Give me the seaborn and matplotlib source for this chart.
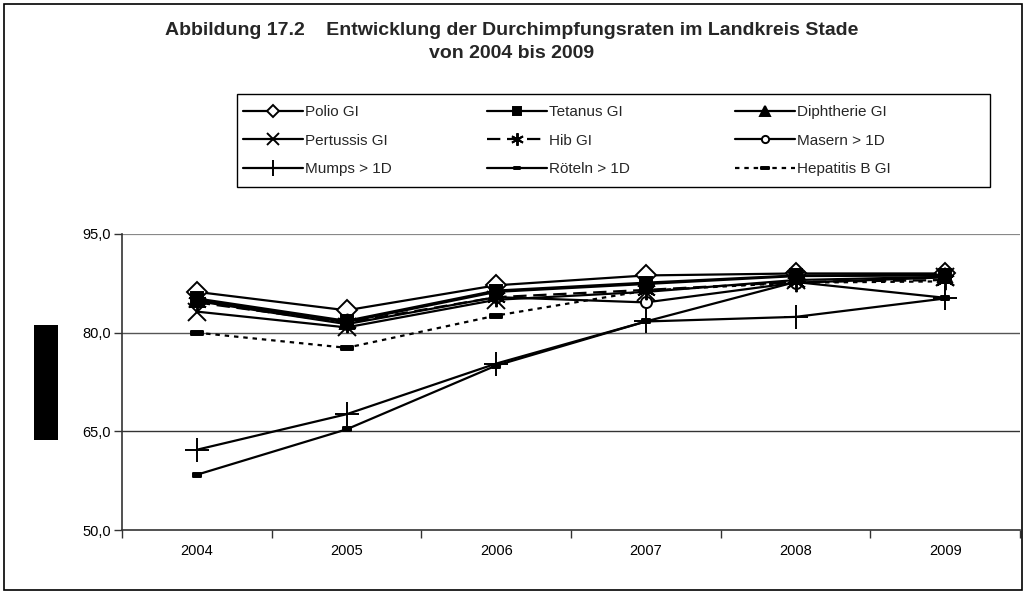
import matplotlib
matplotlib.use("Agg")
import matplotlib.pyplot as plt
from matplotlib.patches import Rectangle
from matplotlib.path import Path
import seaborn as sns
import pandas as pd
import numpy as np

years = ["2004", "2005", "2006", "2007", "2008", "2009"]

polio = [86.2, 83.4, 87.2, 88.7, 89.0, 89.0]
tetanus = [85.2, 81.8, 86.4, 87.6, 88.7, 88.8]
diphtherie = [85.0, 81.6, 86.2, 87.4, 88.6, 88.7]
pertussis = [83.2, 80.8, 85.0, 86.2, 88.0, 88.5]
hib = [84.6, 81.5, 85.4, 86.5, 87.7, 88.0]
masern = [84.8, 81.3, 85.4, 84.6, 87.6, 88.4]
mumps = [62.2, 67.6, 75.3, 81.7, 82.4, 85.2]
roeteln = [58.4, 65.3, 75.0, 81.7, 87.7, 85.3]
hepatitis_b = [80.0, 77.7, 82.6, 86.4, 87.6, 87.8]

labels = ["Polio GI", "Tetanus GI", "Diphtherie GI",
          "Pertussis GI", "Hib GI", "Masern > 1D",
          "Mumps > 1D", "Röteln > 1D", "Hepatitis B GI"]
values = [polio, tetanus, diphtherie, pertussis, hib, masern,
          mumps, roeteln, hepatitis_b]

y_ticks = [50.0, 65.0, 80.0, 95.0]
y_ticklabels = ["50,0", "65,0", "80,0", "95,0"]

title_text = ("Abbildung 17.2    Entwicklung der Durchimpfungsraten im Landkreis Stade\n"
              "von 2004 bis 2009")

# flat bar markers (Röteln, Hepatitis B)
bar_small = Path([(-1, -0.45), (1, -0.45), (1, 0.45), (-1, 0.45), (-1, -0.45)],
                 [Path.MOVETO, Path.LINETO, Path.LINETO, Path.LINETO, Path.CLOSEPOLY])
bar_wide = Path([(-1, -0.35), (1, -0.35), (1, 0.35), (-1, 0.35), (-1, -0.35)],
                [Path.MOVETO, Path.LINETO, Path.LINETO, Path.LINETO, Path.CLOSEPOLY])

styles = {
    "Polio GI":       dict(marker="D", markersize=10, face="white", ls="-", z=2.2),
    "Tetanus GI":     dict(marker="s", markersize=9, face="black", ls="-", z=2.4),
    "Diphtherie GI":  dict(marker="^", markersize=10, face="black", ls="-", z=2.5),
    "Pertussis GI":   dict(marker="x", markersize=13, face="black", ls="-", z=2.3),
    "Hib GI":         dict(marker=(6, 2, 0), markersize=14, face="black", ls=(0, (6, 3)), z=2.6),
    "Masern > 1D":    dict(marker="o", markersize=8, face="white", ls="-", z=2.1),
    "Mumps > 1D":     dict(marker="+", markersize=17, face="black", ls="-", z=2.7),
    "Röteln > 1D":    dict(marker=bar_small, markersize=6, face="black", ls="-", z=2.65),
    "Hepatitis B GI": dict(marker=bar_wide, markersize=9, face="black", ls=(0, (2, 2.2)), z=2.05),
}

sns.set_style("white")
plt.rcParams["font.family"] = ["Liberation Sans", "DejaVu Sans"]

W, H = 1029, 596
fig = plt.figure(figsize=(W / 100, H / 100), dpi=100)
ax = fig.add_axes([122 / W, 1 - 530 / H, 898 / W, (530 - 234) / H])

handles = {}
for name, vals in zip(labels, values):
    df = pd.DataFrame({"Jahr": years, "Rate": vals})
    st = styles[name]
    sns.lineplot(data=df, x="Jahr", y="Rate", ax=ax, color="black",
                 linewidth=1.6, marker=st["marker"], markersize=st["markersize"],
                 markerfacecolor=st["face"], markeredgecolor="black",
                 markeredgewidth=1.4, linestyle=st["ls"], label=name,
                 legend=False, sort=False, zorder=st["z"])
    handles[name] = ax.get_lines()[-1]

ax.set_xlim(-0.5, 5.5)
ax.set_ylim(50, 95)
ax.set_yticks(y_ticks)
ax.set_yticklabels(y_ticklabels)
ax.set_xticks(range(len(years)))
ax.set_xticklabels(years)
ax.set_xticks(np.arange(-0.5, 5.6, 1.0), minor=True)
ax.tick_params(axis="x", which="major", length=0, pad=10, labelsize=10.5, colors="black")
ax.tick_params(axis="x", which="minor", length=6, width=1, color="#333333", direction="out", bottom=True)
ax.tick_params(axis="y", which="major", length=6, width=1, color="#333333", direction="out",
               left=True, pad=2, labelsize=10.5, labelcolor="black")
ax.set_xlabel("")
ax.set_ylabel("")

for y, c in zip([65, 80, 95], ["#333333", "#555555", "#888888"]):
    ax.axhline(y, color=c, linewidth=1.0 if y != 95 else 1.6, zorder=0)

for side in ["top", "right"]:
    ax.spines[side].set_visible(False)
for side in ["left", "bottom"]:
    ax.spines[side].set_color("#333333")
    ax.spines[side].set_linewidth(1.2)

# legend: three columns, filled row by row, inside one frame
legend_columns = [["Polio GI", "Pertussis GI", "Mumps > 1D"],
                  ["Tetanus GI", "Hib GI", "Röteln > 1D"],
                  ["Diphtherie GI", "Masern > 1D", "Hepatitis B GI"]]
column_x = [243, 487, 735]
for col, x0 in zip(legend_columns, column_x):
    fig.legend([handles[n] for n in col], col, ncol=1,
               loc="upper left", bbox_to_anchor=(x0 / W, 1 - 105 / H),
               frameon=False, fontsize=11,
               handlelength=3.9, handletextpad=0.15,
               labelspacing=0.95, borderpad=0, borderaxespad=0,
               markerscale=0.65)
fig.patches.append(Rectangle((237 / W, 1 - 187 / H), (990 - 237) / W, (187 - 94) / H,
                             transform=fig.transFigure, fill=False,
                             edgecolor="black", linewidth=1.0))

fig.text(0.497, 1 - 42 / H, title_text, ha="center", va="center",
         fontsize=14, fontweight="bold", linespacing=1.45)

# outer frame of the chart area
fig.patches.append(Rectangle((4 / W, 6 / H), 1018 / W, 586 / H,
                             transform=fig.transFigure, fill=False,
                             edgecolor="black", linewidth=1.2))
# axis-title block
fig.patches.append(Rectangle((34 / W, 1 - 440 / H), 24 / W, 115 / H,
                             transform=fig.transFigure, facecolor="black",
                             edgecolor="none"))

fig.savefig("out.png", dpi=100)
